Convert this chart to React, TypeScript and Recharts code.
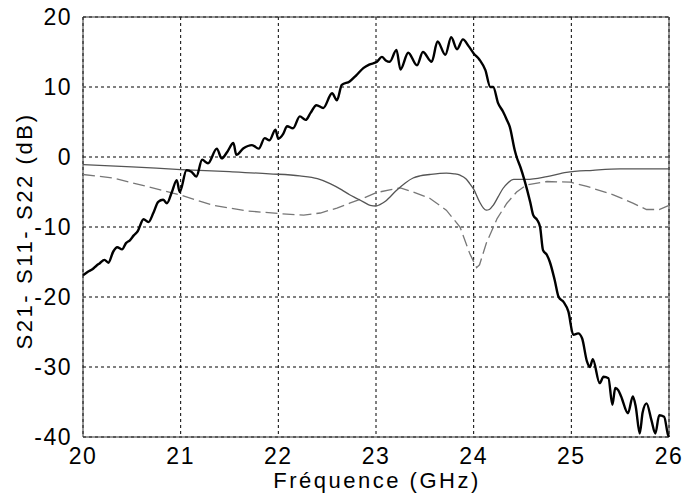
import React from 'react';
import { LineChart, Line, XAxis, YAxis, CartesianGrid, ReferenceArea, Label } from 'recharts';

const xTicks = [20, 21, 22, 23, 24, 25, 26];
const yTicks = [-40, -30, -20, -10, 0, 10, 20];

const s21Freq = [20.0, 20.05, 20.1, 20.14, 20.17, 20.22, 20.26, 20.31, 20.35, 20.4, 20.44, 20.48, 20.52, 20.56, 20.62, 20.67, 20.72, 20.77, 20.82, 20.86, 20.91, 20.96, 20.99, 21.06, 21.11, 21.16, 21.22, 21.28, 21.37, 21.42, 21.48, 21.54, 21.57, 21.64, 21.73, 21.8, 21.86, 21.91, 21.97, 22.0, 22.05, 22.09, 22.15, 22.22, 22.28, 22.33, 22.39, 22.46, 22.55, 22.6, 22.65, 22.73, 22.8, 22.87, 22.93, 23.01, 23.06, 23.1, 23.14, 23.21, 23.25, 23.33, 23.42, 23.48, 23.57, 23.63, 23.71, 23.77, 23.83, 23.89, 23.95, 24.0, 24.06, 24.12, 24.17, 24.2, 24.25, 24.3, 24.34, 24.37, 24.42, 24.44, 24.48, 24.52, 24.58, 24.61, 24.65, 24.68, 24.71, 24.75, 24.78, 24.83, 24.87, 24.92, 24.97, 25.02, 25.07, 25.11, 25.16, 25.19, 25.22, 25.29, 25.33, 25.38, 25.42, 25.45, 25.48, 25.51, 25.58, 25.63, 25.66, 25.7, 25.73, 25.77, 25.82, 25.86, 25.9, 25.95, 25.99, 26.0];
const s21Db = [-16.9, -16.4, -16.0, -15.5, -15.2, -14.7, -15.1, -13.5, -12.9, -13.2, -12.3, -11.9, -11.2, -10.6, -8.9, -9.3, -8.0, -6.4, -6.1, -6.6, -5.0, -3.3, -5.0, -1.9, -2.1, -2.8, -0.4, -0.9, 1.2, -0.2, 0.8, 2.0, 0.3, 1.2, 1.7, 1.2, 2.7, 2.4, 3.9, 2.6, 3.3, 4.4, 4.1, 5.8, 5.3, 6.3, 7.4, 7.0, 9.1, 8.1, 10.3, 10.8, 11.7, 12.7, 13.2, 13.6, 14.3, 13.8, 13.6, 15.3, 12.5, 14.9, 13.1, 15.0, 13.6, 16.5, 14.6, 17.1, 15.4, 16.8, 15.8, 14.8, 13.9, 12.4, 10.0, 10.0, 7.7, 6.5, 5.3, 4.3, 1.0, 0.0, -1.5, -3.3, -6.5, -8.3, -9.0, -10.0, -13.3, -14.0, -15.0, -17.6, -20.0, -20.7, -22.1, -25.4, -25.2, -25.9, -29.2, -30.0, -28.9, -32.3, -31.4, -31.6, -35.4, -33.0, -33.3, -34.2, -36.6, -34.2, -35.7, -39.5, -36.5, -35.2, -37.6, -39.5, -36.9, -37.1, -39.7, -40.0];

const s11Freq = [20.0, 20.5, 21.0, 21.5, 21.91, 22.22, 22.4, 22.53, 22.65, 22.73, 22.8, 22.87, 22.94, 23.0, 23.04, 23.1, 23.13, 23.2, 23.3, 23.38, 23.45, 23.55, 23.72, 23.8, 23.86, 23.92, 23.96, 24.0, 24.06, 24.1, 24.13, 24.16, 24.2, 24.25, 24.3, 24.35, 24.41, 24.54, 24.75, 24.95, 25.22, 25.5, 26.0];
const s11Db = [-1.1, -1.4, -1.8, -2.1, -2.4, -2.7, -3.1, -3.8, -4.7, -5.4, -5.9, -6.4, -6.9, -7.0, -6.8, -6.3, -5.9, -4.9, -3.7, -3.0, -2.7, -2.5, -2.3, -2.4, -2.6, -3.1, -3.8, -4.6, -6.4, -7.3, -7.6, -7.5, -6.9, -5.7, -4.5, -3.7, -3.2, -3.2, -2.8, -2.2, -1.9, -1.7, -1.7];

const s22Freq = [20.0, 20.31, 20.65, 20.99, 21.33, 21.68, 22.02, 22.26, 22.43, 22.6, 22.73, 22.87, 23.0, 23.14, 23.25, 23.38, 23.55, 23.72, 23.86, 23.96, 24.03, 24.06, 24.13, 24.24, 24.34, 24.44, 24.54, 24.75, 24.99, 25.16, 25.43, 25.63, 25.77, 25.9, 26.0];
const s22Db = [-2.5, -3.0, -4.2, -5.4, -6.9, -7.7, -8.1, -8.3, -8.0, -7.3, -6.6, -5.9, -5.1, -4.7, -4.4, -5.0, -5.9, -7.6, -10.0, -13.8, -15.8, -15.4, -12.3, -8.8, -6.6, -5.0, -4.0, -3.5, -3.6, -4.2, -5.4, -6.6, -7.5, -7.5, -6.9];

const xLabel = 'Fréquence (GHz)';
const yLabel = 'S21- S11- S22 (dB)';

const toRows = (f: number[], v: number[]) => f.map((x, i) => ({ f: x, v: v[i] }));
const s21 = toRows(s21Freq, s21Db);
const s11 = toRows(s11Freq, s11Db);
const s22 = toRows(s22Freq, s22Db);

const FONT = '"Liberation Sans", Arial, sans-serif';
const tickStyle = { fontSize: 23, fill: '#000', fontFamily: FONT, letterSpacing: 1.5 };

export default function App() {
  return (
    <div style={{ position: 'absolute', left: 0, top: 0, width: 689, height: 502, background: '#fff' }}>
      <LineChart width={689} height={502} margin={{ top: 17, right: 20, bottom: 0, left: 0 }}>
        <CartesianGrid stroke="#000" strokeDasharray="3 3" strokeWidth={1} />
        <XAxis
          dataKey="f"
          type="number"
          domain={[20, 26]}
          ticks={xTicks}
          allowDuplicatedCategory={false}
          height={65}
          tickLine={false}
          tickSize={0}
          tickMargin={11}
          axisLine={false}
          tick={tickStyle}
          interval={0}
        >
          <Label
            content={(props: any) => {
              const vb = props.viewBox;
              return (
                <text x={vb.x + vb.width / 2 + 1} y={488} textAnchor="middle" fontSize={22} fontFamily={FONT} letterSpacing={2.5} fill="#000">
                  {xLabel}
                </text>
              );
            }}
          />
        </XAxis>
        <YAxis
          type="number"
          domain={[-40, 20]}
          ticks={yTicks}
          width={83}
          tickLine={false}
          tickSize={0}
          tickMargin={11}
          axisLine={false}
          tick={tickStyle}
          interval={0}
        >
          <Label
            content={(props: any) => {
              const vb = props.viewBox;
              const cx = 32;
              const cy = vb.y + vb.height / 2 + 4;
              return (
                <text x={cx} y={cy} transform={`rotate(-90 ${cx} ${cy})`} textAnchor="middle" fontSize={22} fontFamily={FONT} letterSpacing={2.6} fill="#000">
                  {yLabel}
                </text>
              );
            }}
          />
        </YAxis>
        <ReferenceArea x1={20} x2={26} y1={-40} y2={20} fill="none" stroke="#333" strokeWidth={1} ifOverflow="visible" />
        <Line data={s22} dataKey="v" type="linear" stroke="#777" strokeWidth={1.3} strokeDasharray="12 5" dot={false} isAnimationActive={false} />
        <Line data={s11} dataKey="v" type="monotone" stroke="#555" strokeWidth={1.3} dot={false} isAnimationActive={false} />
        <Line data={s21} dataKey="v" type="monotone" stroke="#000" strokeWidth={2.4} dot={false} isAnimationActive={false} />
      </LineChart>
    </div>
  );
}
